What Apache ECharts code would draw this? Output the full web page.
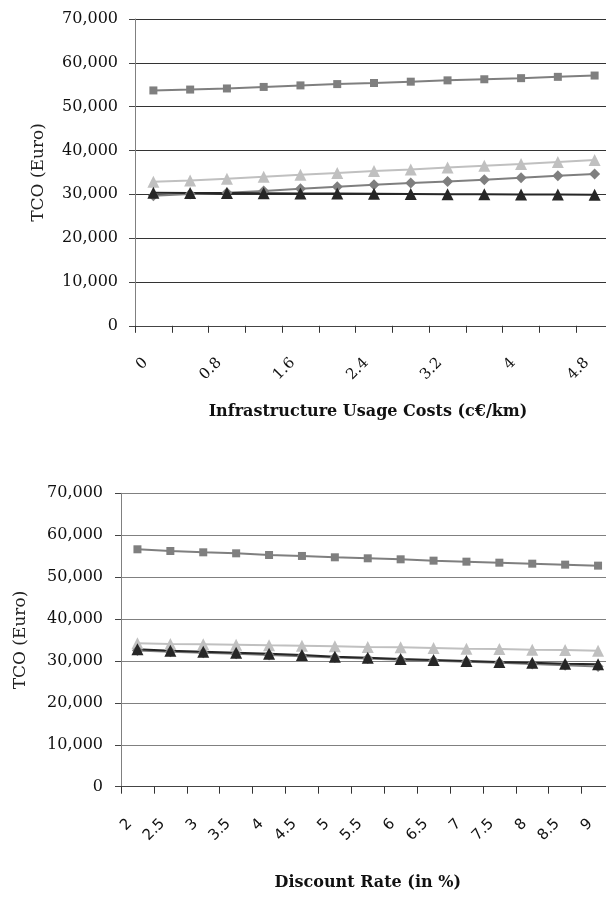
<!DOCTYPE html>
<html>
<head>
<meta charset="utf-8">
<script src="https://cdn.jsdelivr.net/npm/echarts@6/dist/echarts.min.js"></script>
<style>
html,body{margin:0;padding:0;background:#fff;}
#chart{width:606px;height:904px;}
</style>
</head>
<body>
<div id="chart"></div>
<script>
// ---- Data ----
const infraCategories = ['0','0.4','0.8','1.2','1.6','2','2.4','2.8','3.2','3.6','4','4.4','4.8'];
const infraSquare   = [53700, 53900, 54150, 54500, 54850, 55150, 55400, 55700, 56000, 56250, 56500, 56800, 57100];
const infraLightTri = [32870, 33170, 33550, 34010, 34470, 34850, 35300, 35680, 36140, 36520, 36900, 37360, 37810];
const infraDiamond  = [29670, 30050, 30360, 30740, 31270, 31730, 32180, 32560, 32950, 33320, 33780, 34240, 34620];
const infraDarkTri  = [30360, 30320, 30280, 30240, 30200, 30160, 30120, 30080, 30040, 30000, 29960, 29930, 29900];

const discCategories = ['2','2.5','3','3.5','4','4.5','5','5.5','6','6.5','7','7.5','8','8.5','9'];
const discSquare   = [56640, 56240, 55920, 55680, 55280, 55050, 54730, 54490, 54250, 53930, 53690, 53450, 53210, 52980, 52740];
const discLightTri = [34210, 34050, 33970, 33890, 33730, 33650, 33490, 33330, 33250, 33090, 32930, 32860, 32700, 32620, 32460];
const discDiamond  = [32500, 32200, 31950, 31700, 31450, 31150, 30850, 30600, 30300, 30050, 29800, 29550, 29300, 29000, 28700];
const discDarkTri  = [32780, 32460, 32220, 31980, 31740, 31420, 31030, 30790, 30470, 30230, 29990, 29750, 29590, 29360, 29200];

const yTicks = {min: 0, max: 70000, interval: 10000};
const yName = 'TCO (Euro)';
const xName1 = 'Infrastructure Usage Costs (c€/km)';
const xName2 = 'Discount Rate (in %)';

// ---- Styles ----
const SERIF = '"DejaVu Serif", serif';
const SANS = '"DejaVu Sans", sans-serif';
const cSquare = '#7f7f7f', cLight = '#c0c0c0', cDiamond = '#7f7f7f', cDark = '#262626';

function fmt(v){ return Number(v).toLocaleString('en-US'); }

function yAxis(gridIndex, gap, gridColor, margin){
  return {
    type: 'value', gridIndex, min: yTicks.min, max: yTicks.max, interval: yTicks.interval,
    name: yName, nameLocation: 'middle', nameGap: gap, nameRotate: 90,
    nameTextStyle: {fontFamily: SERIF, fontSize: 17, color: '#222'},
    axisLine: {show: true, lineStyle: {color: '#808080', width: 1}},
    axisTick: {show: true, length: 6, lineStyle: {color: '#444'}},
    axisLabel: {fontFamily: SERIF, fontSize: 16, color: '#111', margin: margin, formatter: fmt},
    splitLine: {show: true, lineStyle: {color: gridColor, width: 1}}
  };
}
function xAxis(gridIndex, cats, name, gap, labelFont, interval, margin, namePad){
  return {
    type: 'category', gridIndex, data: cats, boundaryGap: true,
    name: name, nameLocation: 'middle', nameGap: gap,
    nameTextStyle: {fontFamily: SERIF, fontSize: 16, fontWeight: 'bold', color: '#111', padding: namePad},
    axisLine: {show: true, lineStyle: {color: '#444', width: 1}},
    axisTick: {show: true, alignWithLabel: false, interval: 0, length: 7, lineStyle: {color: '#333'}},
    axisLabel: {interval: interval, rotate: 45, fontFamily: labelFont, fontSize: 15, color: '#111', margin: margin, padding: [0, 11, 0, 0]},
    splitLine: {show: false}
  };
}
function line(name, x, y, data, color, symbol, size, lineColor){
  return {
    name, type: 'line', xAxisIndex: x, yAxisIndex: y, data,
    symbol, symbolSize: size, showSymbol: true, clip: false,
    lineStyle: {color: lineColor || color, width: 2},
    itemStyle: {color: color},
    emphasis: {disabled: true}, animation: false
  };
}

const chart = echarts.init(document.getElementById('chart'), null, {renderer: 'canvas'});
chart.setOption({
  animation: false,
  backgroundColor: '#fff',
  grid: [
    {left: 135, top: 19, width: 478, height: 306.8, outerBoundsMode: 'none', containLabel: false},
    {left: 121, top: 493.3, width: 493.5, height: 293.4, outerBoundsMode: 'none', containLabel: false}
  ],
  xAxis: [
    xAxis(0, infraCategories, xName1, 78, SERIF, 1, 27, [0, 12, 0, 0]),
    xAxis(1, discCategories, xName2, 88, SANS, 0, 27, [0, 0, 0, 0])
  ],
  yAxis: [
    yAxis(0, 88, '#333', 17),
    yAxis(1, 92, '#808080', 18)
  ],
  series: [
    line('s1', 0, 0, infraSquare, cSquare, 'rect', 8),
    line('s2', 0, 0, infraLightTri, cLight, 'triangle', 12),
    line('s3', 0, 0, infraDiamond, cDiamond, 'diamond', 11),
    line('s4', 0, 0, infraDarkTri, cDark, 'triangle', 12),
    line('b1', 1, 1, discSquare, cSquare, 'rect', 8),
    line('b2', 1, 1, discLightTri, cLight, 'triangle', 12),
    line('b3', 1, 1, discDiamond, cDiamond, 'diamond', 11),
    line('b4', 1, 1, discDarkTri, cDark, 'triangle', 12)
  ]
});
</script>
</body>
</html>
